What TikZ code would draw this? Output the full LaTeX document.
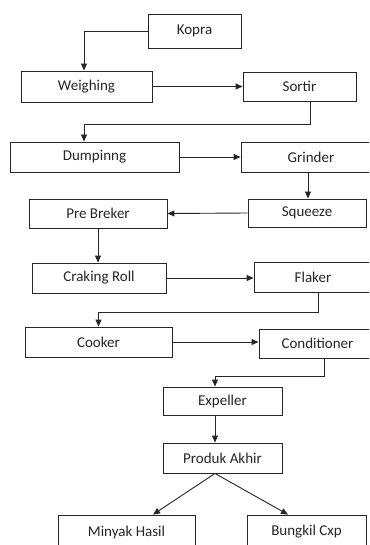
\documentclass[tikz,border=0pt]{standalone}
\usepackage{fontspec}
\setmainfont{Carlito}
\usetikzlibrary{arrows.meta,calc}
\begin{document}
\begin{tikzpicture}[x=1pt,y=-1pt,
  box/.style={draw=black!85, line width=0.9pt, fill=white, inner sep=0pt,
    font=\fontsize{15}{18}\selectfont, text=black!85},
  arr/.style={draw=black!85, line width=0.9pt, -{Triangle[length=7pt,width=6pt]}}]
\useasboundingbox (0,0) rectangle (369,545);
\clip (0,0) rectangle (369,545);
\fill[white] (0,0) rectangle (369,545);
\node[box, minimum width=93pt, minimum height=34pt] (kopra) at (194.5,31) {Kopra};
\node[box, minimum width=131pt, minimum height=31pt] (weigh) at (86.5,86.5) {Weighing};
\node[box, minimum width=113pt, minimum height=29pt] (sortir) at (299.5,86.5) {Sortir};
\node[box, minimum width=169pt, minimum height=30pt] (dump) at (94.5,157) {Dumpinng};
\node[box, minimum width=140pt, minimum height=30pt] (grinder) at (311,157) {Grinder};
\node[box, minimum width=118pt, minimum height=28pt] (squeeze) at (307,213) {Squeeze};
\node[box, minimum width=138pt, minimum height=29pt] (pre) at (98,213.5) {Pre Breker};
\node[box, minimum width=134pt, minimum height=30pt] (crak) at (99,278) {Craking Roll};
\node[box, minimum width=118pt, minimum height=30pt] (flaker) at (313,277) {Flaker};
\node[box, minimum width=147pt, minimum height=30pt] (cooker) at (98.5,342) {Cooker};
\node[box, minimum width=117pt, minimum height=29pt] (cond) at (317.5,343.5) {Conditioner};
\node[box, minimum width=119pt, minimum height=28pt] (expel) at (222.5,401) {Expeller};
\node[box, minimum width=119pt, minimum height=30pt] (produk) at (222.5,458) {Produk Akhir};
\node[box, minimum width=137pt, minimum height=34pt] (minyak) at (126.5,532) {Minyak Hasil};
\node[box, minimum width=119pt, minimum height=34pt] (bungkil) at (306.5,532) {Bungkil Cxp};

\draw[arr] (kopra.west) -| ([xshift=-2.5pt]weigh.north);
\draw[arr] (weigh.east) -- (sortir.west);
\draw[arr] ([xshift=10.5pt]sortir.south) -- ++(0,23) -| ([xshift=-10.5pt]dump.north);
\draw[arr] (dump.east) -- (grinder.west);
\draw[arr] ([xshift=-3pt]grinder.south) -- ([xshift=-3pt]grinder.south |- squeeze.north);
\draw[arr] (squeeze.west) -- (pre.east);
\draw[arr] (pre.south) -- (pre.south |- crak.north);
\draw[arr] (crak.east) -- (crak.east -| flaker.west);
\draw[arr] ([xshift=5pt]flaker.south) -- ++(0,20) -| (cooker.north);
\draw[arr] (cooker.east) -- (cooker.east -| cond.west);
\draw[arr] ([xshift=6.5pt]cond.south) -- ++(0,18) -| ([xshift=-7.5pt]expel.north);
\draw[arr] ([xshift=-7.5pt]expel.south) -- ([xshift=-7.5pt]produk.north);
\draw[arr] ([xshift=-7.5pt]produk.south) -- ([xshift=26.5pt]minyak.north);
\draw[arr] ([xshift=-7.5pt]produk.south) -- ([xshift=-18.5pt]bungkil.north);
\end{tikzpicture}
\end{document}
